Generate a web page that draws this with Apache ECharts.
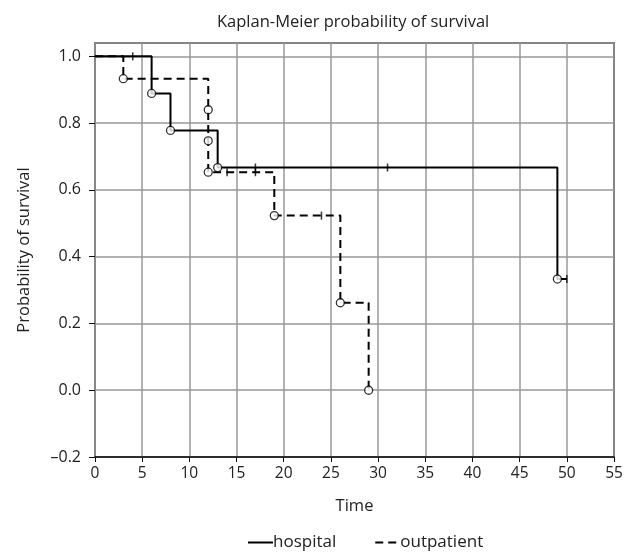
<!DOCTYPE html>
<html>
<head>
<meta charset="utf-8">
<script src="https://cdn.jsdelivr.net/npm/echarts@6/dist/echarts.min.js"></script>
<style>
  html, body { margin: 0; padding: 0; background: #fff; }
  #chart { width: 626px; height: 552px; }
</style>
</head>
<body>
<div id="chart"></div>
<script>
// step curves: time of each step and survival after it
const hospTimes = [0, 6, 8, 13, 49, 50]
const hospSurv = [1.0, 0.889, 0.778, 0.667, 0.333, 0.333]
const hospEvents = [[6, 0.889], [8, 0.778], [13, 0.667], [49, 0.333]]
const hospCensored = [[4, 1.0], [17, 0.667], [31, 0.667], [50, 0.333]]

const outTimes = [0, 3, 12, 12, 12, 19, 26, 29]
const outSurv = [1.0, 0.933, 0.84, 0.747, 0.653, 0.523, 0.262, 0.0]
const outEvents = [[3, 0.933], [12, 0.84], [12, 0.747], [12, 0.653], [19, 0.523], [26, 0.262], [29, 0.0]]
const outCensored = [[14, 0.653], [17, 0.653], [24, 0.523]]

const xTicks = [0, 5, 10, 15, 20, 25, 30, 35, 40, 45, 50, 55]

const font = 'Open Sans'
const zip = (a, b) => a.map((t, i) => [t, b[i]])

const circleStyle = { color: '#fff', borderColor: '#000', borderWidth: 1.3 }
const censorStyle = { color: '#000' }

const chart = echarts.init(document.getElementById('chart'))
chart.setOption({
  animation: false,
  title: {
    text: 'Kaplan-Meier probability of survival',
    left: 212, top: 9,
    textStyle: { fontFamily: font, fontSize: 16.5, fontWeight: 'normal', color: '#222' }
  },
  legend: {
    data: ['hospital', 'outpatient'],
    left: 242, top: 529,
    itemWidth: 25, itemHeight: 14, itemGap: 38,
    itemStyle: { opacity: 0 },
    textStyle: { fontFamily: font, fontSize: 17, color: '#222', padding: [0, 0, 0, -5] }
  },
  grid: {
    left: 95, right: 12, top: 43, bottom: 95,
    show: true, borderColor: '#111', borderWidth: 1.5
  },
  xAxis: {
    type: 'value', min: 0, max: 55, interval: 5,
    name: 'Time', nameLocation: 'middle', nameGap: 41,
    nameTextStyle: { fontFamily: font, fontSize: 16.5, color: '#222' },
    axisLine: { show: true, onZero: false, lineStyle: { color: '#111', width: 1.5 } },
    axisTick: { show: true, length: 5, lineStyle: { color: '#111' } },
    axisLabel: {
      fontFamily: font, fontSize: 15.5, color: '#222', margin: 9,
      formatter: v => xTicks.includes(v) ? String(v) : ''
    },
    splitLine: { show: true, lineStyle: { color: '#999', width: 1.5 } }
  },
  yAxis: {
    type: 'value', min: -0.2, max: 1.04, interval: 0.2,
    name: 'Probability of survival', nameLocation: 'middle', nameGap: 62,
    nameTextStyle: { fontFamily: font, fontSize: 16.5, color: '#222' },
    axisLine: { show: true, lineStyle: { color: '#888', width: 1.5 } },
    axisTick: { show: true, length: 6, lineStyle: { color: '#111' } },
    axisLabel: {
      fontFamily: font, fontSize: 16, color: '#222', margin: 14, showMaxLabel: false,
      formatter: v => v.toFixed(1).replace('-', '–')
    },
    splitLine: { show: true, lineStyle: { color: '#999', width: 1.5 } }
  },
  series: [
    {
      name: 'hospital', type: 'line', step: 'end', symbol: 'none',
      data: zip(hospTimes, hospSurv),
      lineStyle: { color: '#000', width: 2 }, itemStyle: { color: '#000' }, z: 3
    },
    {
      name: 'outpatient', type: 'line', step: 'end', symbol: 'none',
      data: zip(outTimes, outSurv),
      lineStyle: { color: '#000', width: 2, type: [8, 5] }, itemStyle: { color: '#000' }, z: 3
    },
    {
      type: 'scatter', symbol: 'rect', symbolSize: [1.5, 8],
      data: hospCensored.concat(outCensored), itemStyle: censorStyle, z: 4
    },
    {
      type: 'scatter', symbol: 'circle', symbolSize: 8,
      data: hospEvents.concat(outEvents), itemStyle: circleStyle, z: 5
    }
  ]
})
</script>
</body>
</html>
